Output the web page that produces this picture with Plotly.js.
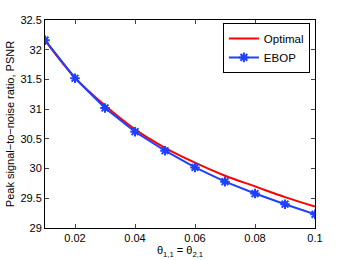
<!DOCTYPE html>
<html><head><meta charset="utf-8">
<script src="https://cdn.plot.ly/plotly-3.0.1.min.js"></script>
<style>body{margin:0;padding:0;background:#fff}#c{width:347px;height:260px}</style>
</head><body><div id="c"></div>
<script>
const theta = [0.01,0.02,0.03,0.04,0.05,0.06,0.07,0.08,0.09,0.10];
const optimal = [32.16,31.53,31.06,30.66,30.35,30.10,29.88,29.70,29.52,29.36];
const ebop = [32.16,31.52,31.02,30.62,30.30,30.02,29.78,29.58,29.40,29.23];
const xTicks = [0.02,0.04,0.06,0.08,0.1];
const xTickText = ['0.02','0.04','0.06','0.08','0.1'];
const yTicks = [29,29.5,30,30.5,31,31.5,32,32.5];
const yTickText = ['29','29.5','30','30.5','31','31.5','32','32.5'];

const fnt = {family:'Liberation Sans, Arial, sans-serif', size:11, color:'#000'};
const traces = [
 {x:theta, y:optimal, name:'Optimal', mode:'lines', line:{color:'#ff0000', width:2, shape:'spline'}},
 {x:theta, y:ebop, name:'EBOP', mode:'lines+markers', line:{color:'#2040ff', width:2},
  marker:{symbol:'asterisk-open', size:8, color:'#2040ff', line:{color:'#2040ff', width:2}}}
];
const ax = {showline:true, mirror:'ticks', linecolor:'#000', linewidth:1, ticks:'inside', ticklen:4,
  tickcolor:'#444', showgrid:false, zeroline:false, tickfont:fnt};
const layout = {
  width:347, height:260, margin:{l:45, r:32, t:20, b:32},
  paper_bgcolor:'#fff', plot_bgcolor:'#fff', font:fnt, showlegend:true,
  xaxis:Object.assign({}, ax, {range:[0.01,0.1], tickvals:xTicks, ticktext:xTickText,
    title:{text:'θ<sub>1,1</sub> = θ<sub>2,1</sub>', font:fnt, standoff:2}}),
  yaxis:Object.assign({}, ax, {range:[29,32.5], tickvals:yTicks, ticktext:yTickText,
    title:{text:'Peak signal−to−noise ratio, PSNR', font:fnt, standoff:3}}),
  legend:{x:0.981, y:0.986, xanchor:'right', yanchor:'top', bgcolor:'#fff', bordercolor:'#000', borderwidth:1,
    font:{family:'Liberation Sans, Arial, sans-serif', size:11.5, color:'#000'}, tracegroupgap:0, itemwidth:30}
};
Plotly.newPlot('c', traces, layout, {displayModeBar:false, staticPlot:true});
</script></body></html>
